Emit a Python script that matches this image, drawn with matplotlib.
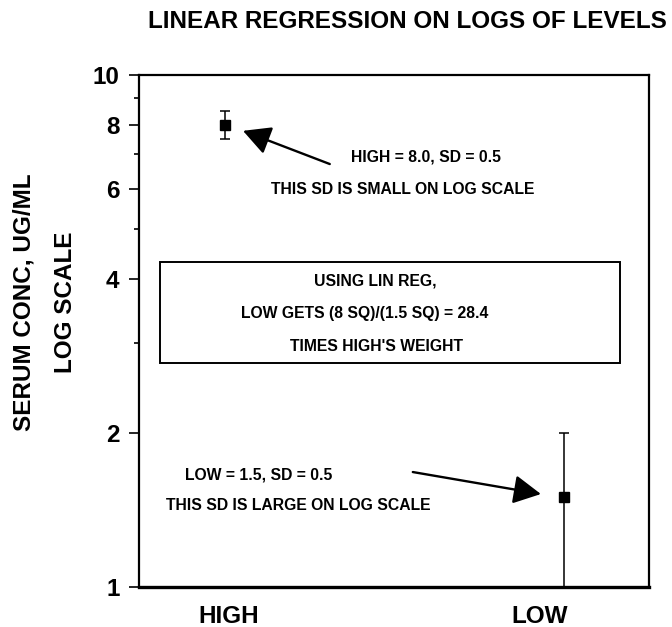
import matplotlib
matplotlib.use('Agg')
import matplotlib.pyplot as plt
from matplotlib.ticker import FixedLocator, NullFormatter

plt.rcParams['font.family'] = ['Liberation Sans', 'DejaVu Sans']
plt.rcParams['font.weight'] = 'bold'

# data
groups = ['HIGH', 'LOW']
group_x = [1, 2]
means = [8.0, 1.5]
sds = [0.5, 0.5]

major_ticks = [1, 2, 4, 6, 8, 10]
minor_ticks = [3, 5, 7, 9]

box_lines = ['USING LIN REG,',
             'LOW GETS (8 SQ)/(1.5 SQ) = 28.4',
             "TIMES HIGH'S WEIGHT"]

fig = plt.figure(figsize=(6.72, 6.27), dpi=100)
ax = fig.add_axes([0.2068, 0.0638, 0.759, 0.8166])

ax.errorbar(group_x, means, yerr=sds, fmt='s', color='black',
            markersize=6.5, elinewidth=1.1, capsize=3.5, capthick=1.1,
            clip_on=False)

ax.set_yscale('log')
ax.set_ylim(1, 10)
ax.set_xlim(0.746, 2.251)
ax.yaxis.set_major_locator(FixedLocator(major_ticks))
ax.yaxis.set_minor_locator(FixedLocator(minor_ticks))
ax.yaxis.set_minor_formatter(NullFormatter())
ax.set_yticklabels([str(t) for t in major_ticks])
ax.tick_params(axis='y', which='major', direction='out', length=7,
               width=1.2, labelsize=17.5, pad=7)
ax.tick_params(axis='y', which='minor', direction='out', length=3.5, width=1.2)

# category labels sit a little off the point positions
ax.set_xticks([1.012, 1.929])
ax.set_xticklabels(groups)
ax.tick_params(axis='x', length=0, labelsize=17.5, pad=13)

for side in ['left', 'top', 'right']:
    ax.spines[side].set_linewidth(1.6)
ax.spines['bottom'].set_linewidth(2.4)

txt = dict(fontsize=11.3, fontweight='bold', transform=ax.transAxes, va='center')
arrow = dict(arrowstyle='-|>,head_length=0.8,head_width=0.42',
             color='black', lw=1.7, mutation_scale=21, shrinkA=0, shrinkB=0)

# HIGH point note
ax.annotate('', xy=(1.053, 7.78), xytext=(1.309, 6.70), arrowprops=arrow)
ax.text(0.562, 0.840, 'HIGH = 8.0, SD = 0.5', ha='center', **txt)
ax.text(0.776, 0.777, 'THIS SD IS SMALL ON LOG SCALE', ha='right', **txt)

# weighting box
ax.add_patch(plt.Rectangle((0.041, 0.4375), 0.902, 0.1975, transform=ax.transAxes,
                           fill=False, edgecolor='black', linewidth=1.4))
for ty, tx, s in zip([0.598, 0.535, 0.469], [0.463, 0.443, 0.465], box_lines):
    ax.text(tx, ty, s, ha='center', **txt)

# LOW point note
ax.annotate('', xy=(1.932, 1.519), xytext=(1.554, 1.677), arrowprops=arrow)
ax.text(0.090, 0.219, 'LOW = 1.5, SD = 0.5', ha='left', **txt)
ax.text(0.053, 0.160, 'THIS SD IS LARGE ON LOG SCALE', ha='left', **txt)

fig.text(0.607, 0.965, 'LINEAR REGRESSION ON LOGS OF LEVELS',
         ha='center', va='center', fontsize=17.5, fontweight='bold')
fig.text(24 / 672, 0.518, 'SERUM CONC, UG/ML', rotation=90,
         ha='center', va='center', fontsize=17.5, fontweight='bold')
fig.text(66 / 672, 0.518, 'LOG SCALE', rotation=90,
         ha='center', va='center', fontsize=17.5, fontweight='bold')

fig.savefig('out.png', dpi=100)
